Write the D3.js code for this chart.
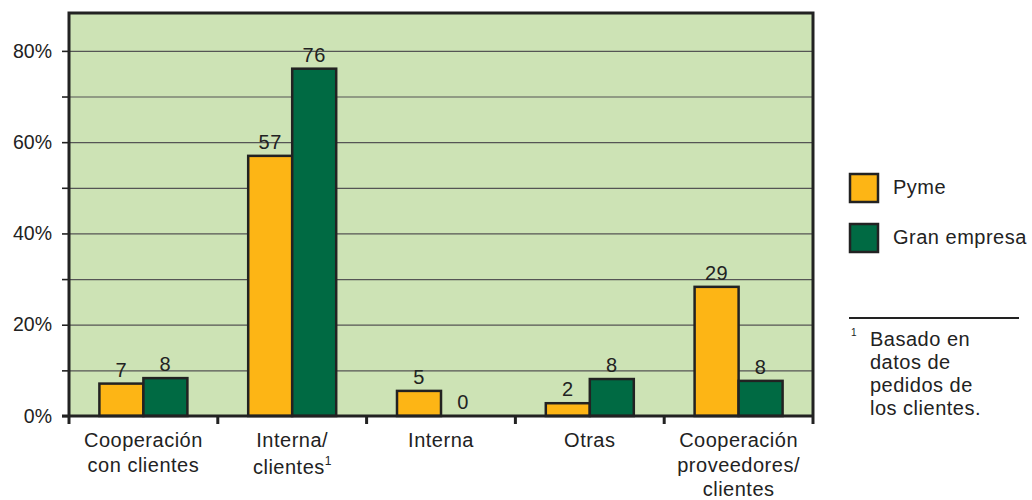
<!DOCTYPE html>
<html>
<head>
<meta charset="utf-8">
<script src="https://cdn.jsdelivr.net/npm/d3@7"></script>
<style>
  html, body { margin: 0; padding: 0; background: #fff; }
  svg { display: block; font-family: "Liberation Sans", Arial, sans-serif; }
  .lbl { font-size: 20px; letter-spacing: 0.5px; }
</style>
</head>
<body>
<svg id="chart" width="1032" height="500"></svg>
<script>
// ---- data ----
const categories = ["Cooperación con clientes", "Interna/clientes", "Interna", "Otras", "Cooperación proveedores/clientes"];
const categoryLines = [["Cooperación", "con clientes"], ["Interna/", "clientes"], ["Interna"], ["Otras"], ["Cooperación", "proveedores/", "clientes"]];
const categoryFootnote = [false, true, false, false, false];
const seriesNames = ["Pyme", "Gran empresa"];
const pymeValues = [7.1, 57.0, 5.5, 2.8, 28.3];
const granValues = [8.3, 76.1, 0, 8.1, 7.7];
const pymeLabels = ["7", "57", "5", "2", "29"];
const granLabels = ["8", "76", "0", "8", "8"];
const yTicks = [0, 10, 20, 30, 40, 50, 60, 70, 80];
const yTickLabels = ["0%", "", "20%", "", "40%", "", "60%", "", "80%"];
const footnoteLines = ["Basado en", "datos de", "pedidos de", "los clientes."];

// ---- layout ----
const colors = ["#fdb515", "#006a43"];
const svg = d3.select("#chart");
const pLeft = 69, pRight = 813, pTop = 13, pBottom = 416;
const textColor = "#222";

const x = d3.scaleBand().domain(categories).range([pLeft, pRight]);
const xs = d3.scaleBand().domain(seriesNames).range([0, 88]);
const y = d3.scaleLinear().domain([0, 88.3]).range([pBottom, pTop]);

// plot background
svg.append("rect").attr("x", pLeft).attr("y", pTop).attr("width", pRight - pLeft).attr("height", pBottom - pTop)
  .attr("fill", "#cde3b5");

// gridlines
svg.append("g").attr("transform", `translate(${pLeft},0)`)
  .call(d3.axisLeft(y).tickValues(yTicks.slice(1)).tickSize(-(pRight - pLeft)).tickFormat(""))
  .call(g => g.select(".domain").remove())
  .call(g => g.selectAll("line").attr("stroke", "#555").attr("stroke-width", 1.2));

// y axis ticks & labels
const yAxis = svg.append("g").attr("transform", `translate(${pLeft},0)`)
  .call(d3.axisLeft(y).tickValues(yTicks).tickSize(7).tickPadding(10)
    .tickFormat((d, i) => yTickLabels[i]));
yAxis.select(".domain").remove();
yAxis.selectAll("line").attr("stroke", "#222").attr("stroke-width", 1.6);
yAxis.selectAll("text").attr("font-size", 19.5).attr("fill", textColor)
  .attr("font-family", "'Liberation Sans', Arial, sans-serif");

// bars
const data = categories.map((c, i) => ({ c, i, vals: [
  { s: seriesNames[0], v: pymeValues[i], label: pymeLabels[i], color: colors[0] },
  { s: seriesNames[1], v: granValues[i], label: granLabels[i], color: colors[1] }
]}));
const groups = svg.append("g").selectAll("g").data(data).join("g")
  .attr("transform", d => `translate(${x(d.c) + (x.bandwidth() - 88) / 2},0)`);
groups.selectAll("rect").data(d => d.vals.filter(v => v.v > 0)).join("rect")
  .attr("x", d => xs(d.s)).attr("width", xs.bandwidth())
  .attr("y", d => y(d.v)).attr("height", d => y(0) - y(d.v))
  .attr("fill", d => d.color).attr("stroke", "#222").attr("stroke-width", 2.5);
groups.selectAll("text").data(d => d.vals).join("text")
  .attr("class", "lbl")
  .attr("x", d => xs(d.s) + xs.bandwidth() / 2)
  .attr("y", d => y(d.v) - 7)
  .attr("text-anchor", "middle").attr("fill", textColor)
  .text(d => d.label);

// frame
svg.append("path")
  .attr("d", `M${pLeft},${pBottom}V${pTop}H${pRight}V${pBottom}`)
  .attr("fill", "none").attr("stroke", "#222").attr("stroke-width", 3);
// x axis
const xAxis = svg.append("g").attr("transform", `translate(0,${pBottom})`)
  .call(d3.axisBottom(x).tickSize(0).tickFormat(""));
xAxis.select(".domain").attr("stroke", "#222").attr("stroke-width", 3)
  .attr("d", `M${pLeft - 7},0H${pRight}`);
// boundary tick marks
const bounds = categories.map(c => x(c)).concat([pRight]);
svg.append("g").selectAll("line").data(bounds).join("line")
  .attr("x1", d => d).attr("x2", d => d).attr("y1", pBottom).attr("y2", pBottom + 8)
  .attr("stroke", "#222").attr("stroke-width", 3);

// category labels
const catText = svg.append("g").selectAll("text").data(categories).join("text")
  .attr("class", "lbl")
  .attr("x", d => x(d) + x.bandwidth() / 2)
  .attr("y", 447)
  .attr("text-anchor", "middle").attr("fill", textColor);
catText.each(function(d, i) {
  const t = d3.select(this);
  categoryLines[i].forEach((line, j) => {
    t.append("tspan").attr("x", x(d) + x.bandwidth() / 2)
      .attr("dy", j === 0 ? 0 : (categoryFootnote[i] ? 27 : 24.5)).text(line);
    if (categoryFootnote[i] && j === categoryLines[i].length - 1) {
      t.append("tspan").attr("font-size", 12).attr("letter-spacing", "0px").attr("dy", -9).text("1");
    }
  });
});

// legend
const legend = svg.append("g").selectAll("g").data(seriesNames).join("g")
  .attr("transform", (d, i) => `translate(850,${174 + i * 50})`);
legend.append("rect").attr("width", 28).attr("height", 28)
  .attr("fill", (d, i) => colors[i]).attr("stroke", "#222").attr("stroke-width", 2.5);
legend.append("text").attr("class", "lbl").attr("x", 43).attr("y", 20).attr("fill", textColor).text(d => d);

// footnote
svg.append("line").attr("x1", 849).attr("x2", 1019).attr("y1", 318).attr("y2", 318)
  .attr("stroke", "#222").attr("stroke-width", 2);
svg.append("text").attr("x", 851).attr("y", 336).attr("font-size", 10).attr("fill", textColor).text("1");
svg.append("text").attr("class", "lbl").attr("fill", textColor)
  .selectAll("tspan").data(footnoteLines).join("tspan")
  .attr("x", 870).attr("y", (d, i) => 346 + i * 23).text(d => d);
</script>
</body>
</html>
